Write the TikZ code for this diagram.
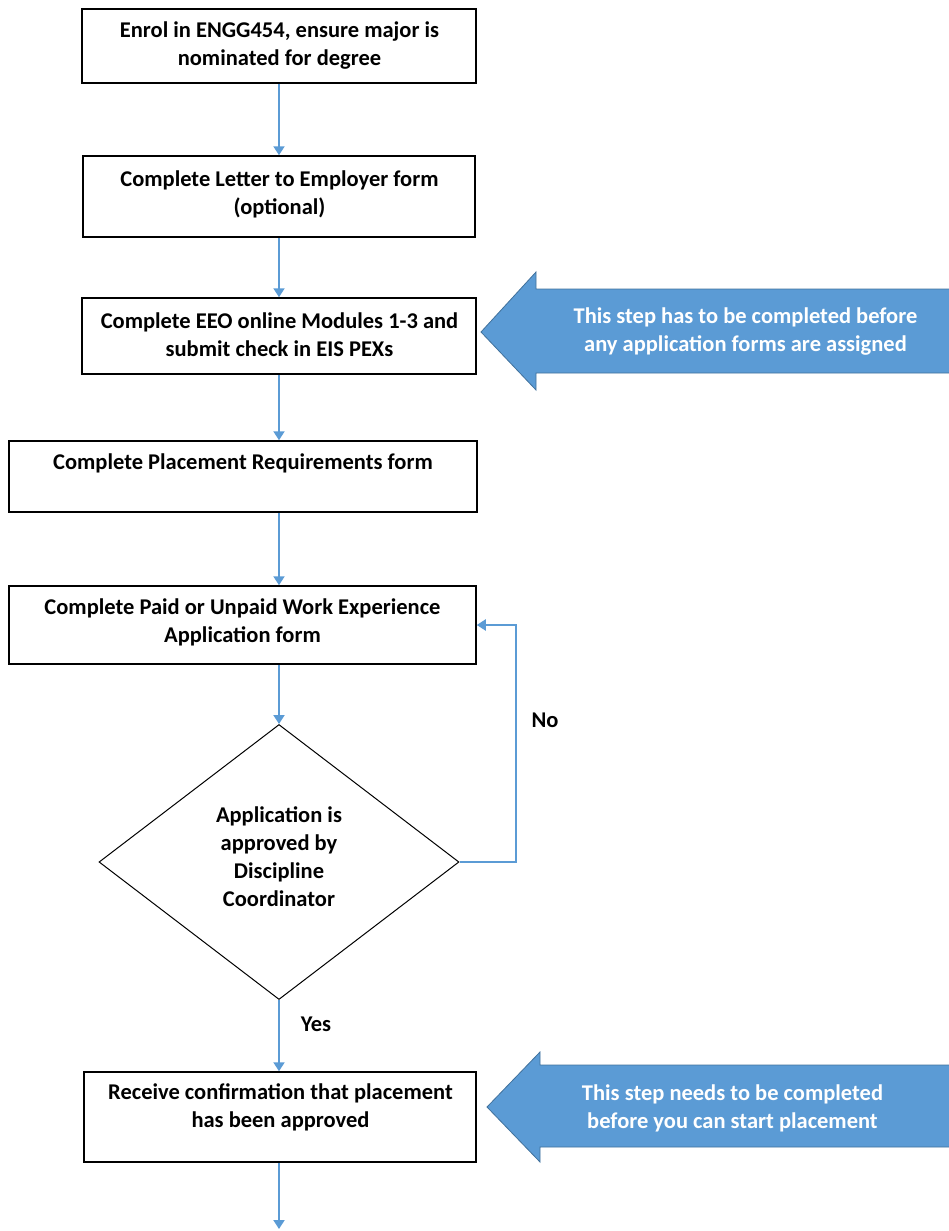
\documentclass[tikz,border=0pt]{standalone}
\usepackage{fontspec}
\setmainfont{Carlito}
\usetikzlibrary{shapes.geometric,arrows.meta}
\definecolor{conncol}{HTML}{5B9BD5}
\definecolor{bigfill}{HTML}{5B9BD5}
\definecolor{bigedge}{HTML}{41719C}
\begin{document}
\begin{tikzpicture}[x=1pt,y=-1pt,
  box/.style={draw=black,line width=1.5pt,rectangle,inner sep=0pt},
  txt/.style={align=center,inner sep=0pt,font=\fontsize{22.5}{28}\selectfont\bfseries},
  wtxt/.style={txt,text=white},
  conn/.style={draw=conncol,line width=2pt,-{Triangle[width=11pt,length=9pt]}},
  bigarrow/.style={fill=bigfill,draw=bigedge,line width=0.8pt,line join=miter}]
\useasboundingbox (0,0) rectangle (949,1231);
% boxes
\node[box,minimum width=394pt,minimum height=74pt] (b1) at (279,46) {};
\node[box,minimum width=392pt,minimum height=81pt] (b2) at (279,196.5) {};
\node[box,minimum width=394pt,minimum height=76pt] (b3) at (279,336) {};
\node[box,minimum width=468pt,minimum height=71pt] (b4) at (243,476.5) {};
\node[box,minimum width=467pt,minimum height=78pt] (b5) at (242.5,625) {};
\node[draw=black,line width=1pt,diamond,minimum width=360pt,minimum height=275pt,inner sep=0pt] (dia) at (279,862) {};
\node[box,minimum width=392pt,minimum height=90pt] (b6) at (280,1117) {};
% texts
\node[txt] (t1) at (279.5,46) {Enrol in ENGG454, ensure major is\\nominated for degree};
\node[txt] (t2) at (279.5,194) {Complete Letter to Employer form\\(optional)};
\node[txt] (t3) at (279.5,335) {Complete EEO online Modules 1-3 and\\submit check in EIS PEXs};
\node[txt] (t4) at (243,463) {Complete Placement Requirements form};
\node[txt] (t5) at (242.5,622) {Complete Paid or Unpaid Work Experience\\Application form};
\node[txt] (td) at (279,857) {Application is\\approved by\\Discipline\\Coordinator};
\node[txt] (t6) at (280.5,1107) {Receive confirmation that placement\\has been approved};
\node[txt] (no) at (545,720) {No};
\node[txt] (yes) at (316,1024) {Yes};
% connectors
\coordinate (end) at (279,1229);
\draw[conn] (b1.south) -- (b2.north);
\draw[conn] (b2.south) -- (b3.north);
\draw[conn] (b3.south) -- (b4.north -| b3.south);
\draw[conn] (b4.south -| b3.south) -- (b5.north -| b3.south);
\draw[conn] (b5.south -| dia.north) -- (dia.north);
\draw[conn] (dia.east) -- ++(56,0) |- (b5.east);
\draw[conn] (dia.south) -- (b6.north -| dia.south);
\draw[conn] (b6.south -| dia.south) -- (end);
% big arrows
\draw[bigarrow] (481,332) -- (536,272) -- (536,289) -- (950,289) -- (950,373) -- (536,373) -- (536,390) -- cycle;
\node[wtxt] (n1) at (745.5,332) {This step has to be completed before\\any application forms are assigned};
\draw[bigarrow] (487,1107) -- (540,1052) -- (540,1065) -- (950,1065) -- (950,1147) -- (540,1147) -- (540,1162) -- cycle;
\node[wtxt] (n2) at (732.5,1108) {This step needs to be completed\\before you can start placement};
\end{tikzpicture}
\end{document}
